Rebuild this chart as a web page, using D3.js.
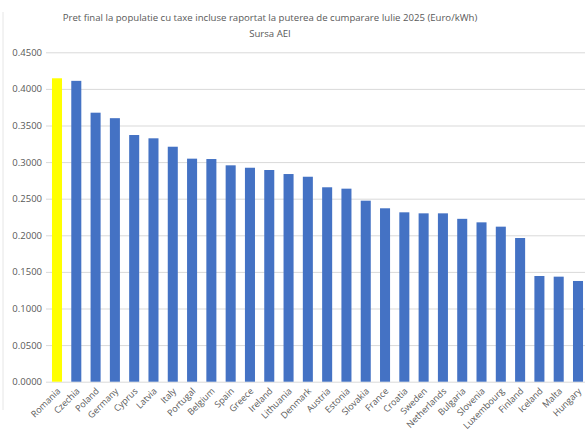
<!DOCTYPE html>
<html>
<head>
<meta charset="utf-8">
<script src="https://cdn.jsdelivr.net/npm/d3@7"></script>
<style>
  body { margin: 0; background: #fff; }
  svg { display: block; }
  text { font-family: "Open Sans", "Liberation Sans", sans-serif; fill: #595959; }
</style>
</head>
<body>
<div id="chart"></div>
<script>
// Chart data
const countries = ["Romania", "Czechia", "Poland", "Germany", "Cyprus", "Latvia", "Italy",
    "Portugal", "Belgium", "Spain", "Greece", "Ireland", "Lithuania", "Denmark", "Austria",
    "Estonia", "Slovakia", "France", "Croatia", "Sweden", "Netherlands", "Bulgaria",
    "Slovenia", "Luxembourg", "Finland", "Iceland", "Malta", "Hungary"];
const prices = [0.4145, 0.4110, 0.3675, 0.3600, 0.3370, 0.3325, 0.3210,
    0.3047, 0.3042, 0.2956, 0.2923, 0.2892, 0.2837, 0.2800, 0.2656,
    0.2637, 0.2473, 0.2369, 0.2314, 0.2300, 0.2300, 0.2225,
    0.2177, 0.2118, 0.1963, 0.1444, 0.1435, 0.1376];
const highlighted = ["Romania"];
const yTicks = [0, 0.05, 0.1, 0.15, 0.2, 0.25, 0.3, 0.35, 0.4, 0.45];
const titleLines = [
    "Pret final la populatie cu taxe incluse raportat la puterea de cumparare Iulie 2025 (Euro/kWh)",
    "Sursa AEI"
];

const width = 585, height = 434;
const margin = { top: 52, right: -4, bottom: 52, left: 46 };

const svg = d3.select('#chart')
    .append('svg')
    .attr('width', width)
    .attr('height', height);

// faint frame edge on the left
svg.append('line')
    .attr('x1', 3).attr('x2', 3)
    .attr('y1', 12).attr('y2', 410)
    .attr('stroke', '#e6e6e6');

const x = d3.scaleBand()
    .domain(countries)
    .range([margin.left, width - margin.right])
    .paddingInner(0.48)
    .paddingOuter(0.31);

const y = d3.scaleLinear()
    .domain([0, 0.45])
    .range([height - margin.bottom - 0.3, margin.top + 0.3]);

// gridlines + y labels
const yAxis = svg.append('g')
    .attr('transform', `translate(${margin.left},0)`)
    .call(d3.axisLeft(y)
        .tickValues(yTicks)
        .tickSize(-(width - margin.left))
        .tickPadding(4)
        .tickFormat(d3.format('.4f')));
yAxis.select('.domain').remove();
yAxis.selectAll('.tick line').attr('stroke', '#d9d9d9');
yAxis.selectAll('.tick text')
    .style('font-size', '9.5px');

// bars
svg.selectAll('.bar')
    .data(countries)
    .enter()
    .append('rect')
    .attr('class', 'bar')
    .attr('x', d => x(d))
    .attr('y', (d, i) => y(prices[i]))
    .attr('width', x.bandwidth())
    .attr('height', (d, i) => y(0) - y(prices[i]))
    .attr('fill', d => highlighted.includes(d) ? '#ffff00' : '#4472c4');

// x labels, rotated
const xAxis = svg.append('g')
    .attr('transform', `translate(0,${y(0)})`)
    .call(d3.axisBottom(x).tickSize(0).tickPadding(0));
xAxis.select('.domain').remove();
xAxis.selectAll('.tick text')
    .style('font-size', '9px')
    .attr('text-anchor', 'end')
    .attr('dy', 0)
    .attr('transform', 'translate(4,10) rotate(-45)');

// title
svg.selectAll('.title')
    .data(titleLines)
    .enter()
    .append('text')
    .attr('class', 'title')
    .attr('x', 270)
    .attr('y', (d, i) => 21 + i * 16)
    .attr('text-anchor', 'middle')
    .style('font-size', '9.6px')
    .text(d => d);
</script>
</body>
</html>
